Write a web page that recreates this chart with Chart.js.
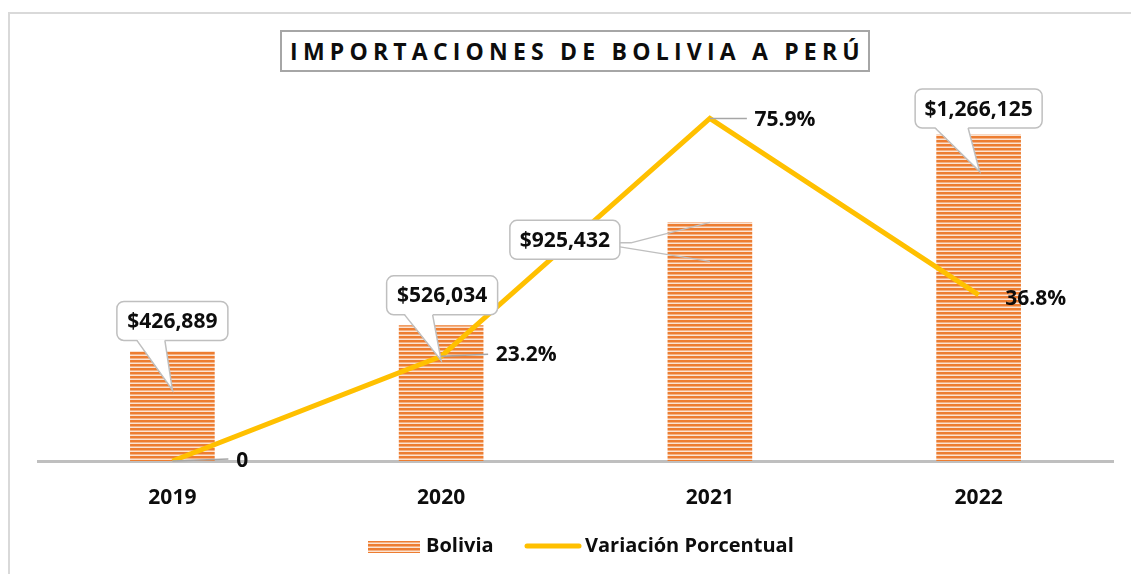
<!DOCTYPE html>
<html>
<head>
<meta charset="utf-8">
<script src="https://cdn.jsdelivr.net/npm/chart.js@4/dist/chart.umd.min.js"></script>
<style>
  html, body { margin:0; padding:0; background:#fff; overflow:hidden; }
  #wrap { position:relative; width:1131px; height:574px; }
  #frame { position:absolute; left:8px; top:12px; width:1200px; height:700px; border:2px solid #d9d9d9; }
  #title {
    position:absolute; left:280px; top:30px; width:590px; height:42px;
    border:2px solid #a6a6a6; background:#fff; box-sizing:border-box;
    font:bold 23px "Open Sans"; letter-spacing:5.2px; color:#0d0d0d;
    text-align:center; line-height:38px; white-space:nowrap; padding-left:5px;
  }
  canvas { position:absolute; left:0; top:0; }
</style>
</head>
<body>
<div id="wrap">
  <div id="frame"></div>
  <canvas id="chart"></canvas>
  <div id="title">IMPORTACIONES DE BOLIVIA A PERÚ</div>
</div>
<script>
const years = ["2019", "2020", "2021", "2022"];
const bolivia = [426889, 526034, 925432, 1266125];
const variacion = [0, 23.2, 75.9, 36.8];
const variacionLabels = ["0", "23.2%", "75.9%", "36.8%"];

const FONT = '"Open Sans"';
const TEXT = "#0d0d0d";

// striped fill like the excel bars
function stripes() {
    const c = document.createElement("canvas");
    c.width = 8; c.height = 4;
    const g = c.getContext("2d");
    g.fillStyle = "#ed7d31"; g.fillRect(0, 0, 8, 2);
    g.fillStyle = "#f4b183"; g.fillRect(0, 2, 8, 1);
    g.fillStyle = "#fbe3d2"; g.fillRect(0, 3, 8, 1);
    return g.createPattern(c, "repeat");
}

// callout boxes for the bar values (offsets from bar top)
const callouts = [
    { dx: 0,    dy: -30,  w: 111, base: [20, 48], tip: [0, 39] },
    { dx: 1,    dy: -30,  w: 111, base: [18, 46], tip: [0, 35] },
    { dx: -145, dy: 17.5, w: 110, side: true },
    { dx: 0,    dy: -26,  w: 127, base: [20, 53], tip: [1, 37] }
];
// labels of the line points: text offset and leader line end
const lineLabels = [
    { dx: 70, dy: 0,  lead: [56, -2] },
    { dx: 85, dy: -1, lead: [47, -2] },
    { dx: 75, dy: 2,  lead: [37, 0] },
    { dx: 57, dy: 4,  lead: null }
];

function roundRect(ctx, x, y, w, h, r) {
    ctx.beginPath();
    ctx.moveTo(x + r, y);
    ctx.arcTo(x + w, y, x + w, y + h, r);
    ctx.arcTo(x + w, y + h, x, y + h, r);
    ctx.arcTo(x, y + h, x, y, r);
    ctx.arcTo(x, y, x + w, y, r);
    ctx.closePath();
}

const labelPlugin = {
    id: "labels",
    afterDatasetsDraw(chart) {
        const ctx = chart.ctx;
        ctx.save();

        // line labels
        const lineMeta = chart.getDatasetMeta(1);
        lineMeta.data.forEach((pt, i) => {
            const o = lineLabels[i];
            if (o.lead) {
                ctx.strokeStyle = "#a6a6a6";
                ctx.lineWidth = 1.5;
                ctx.beginPath();
                ctx.moveTo(pt.x, pt.y);
                ctx.lineTo(pt.x + o.lead[0], pt.y + o.lead[1]);
                ctx.stroke();
            }
            ctx.fillStyle = TEXT;
            ctx.font = "bold 21px " + FONT;
            ctx.textAlign = "center";
            ctx.textBaseline = "middle";
            ctx.fillText(variacionLabels[i], pt.x + o.dx, pt.y + o.dy);
        });

        // bar callouts
        const barMeta = chart.getDatasetMeta(0);
        barMeta.data.forEach((bar, i) => {
            const c = callouts[i];
            const h = 39;
            const cx = bar.x + c.dx, cy = bar.y + c.dy;
            const x = cx - c.w / 2, y = cy - h / 2;
            ctx.lineWidth = 1.5;
            ctx.strokeStyle = "#bfbfbf";
            ctx.fillStyle = "#fff";
            roundRect(ctx, x, y, c.w, h, 7);
            ctx.fill();
            ctx.stroke();
            if (c.side) {
                ctx.beginPath();
                ctx.moveTo(x + c.w + 11, cy + 3);
                ctx.lineTo(bar.x, bar.y);
                ctx.moveTo(x + c.w, cy + 7);
                ctx.lineTo(bar.x, bar.y + 39);
                ctx.moveTo(x + c.w, cy + 3);
                ctx.lineTo(x + c.w + 11, cy + 3);
                ctx.stroke();
            } else {
                const tx = bar.x + c.tip[0], ty = bar.y + c.tip[1];
                ctx.beginPath();
                ctx.moveTo(x + c.base[0], y + h - 1);
                ctx.lineTo(tx, ty);
                ctx.lineTo(x + c.base[1], y + h - 1);
                ctx.closePath();
                ctx.fill();
                ctx.beginPath();
                ctx.moveTo(x + c.base[0], y + h);
                ctx.lineTo(tx, ty);
                ctx.lineTo(x + c.base[1], y + h);
                ctx.stroke();
            }
            ctx.fillStyle = TEXT;
            ctx.font = "bold 21px " + FONT;
            ctx.textAlign = "center";
            ctx.textBaseline = "middle";
            ctx.fillText("$" + bolivia[i].toLocaleString("en-US"), cx, cy + 1);
        });

        ctx.restore();
    },
    afterDraw(chart) {
        // legend
        const ctx = chart.ctx;
        ctx.save();
        ctx.fillStyle = stripes();
        ctx.fillRect(368, 541, 52, 12);
        ctx.strokeStyle = "#ffc000";
        ctx.lineWidth = 5;
        ctx.lineCap = "round";
        ctx.beginPath();
        ctx.moveTo(527, 546);
        ctx.lineTo(579, 546);
        ctx.stroke();
        ctx.fillStyle = TEXT;
        ctx.font = "bold 20px " + FONT;
        ctx.textAlign = "left";
        ctx.textBaseline = "middle";
        ctx.fillText("Bolivia", 426, 546);
        ctx.fillText("Variación Porcentual", 585, 546);
        ctx.restore();
    }
};

const canvas = document.getElementById("chart");
canvas.width = 1131;
canvas.height = 574;

new Chart(canvas, {
    type: "bar",
    data: {
        labels: years,
        datasets: [{
            label: "Bolivia",
            data: bolivia,
            backgroundColor: stripes(),
            borderWidth: 0,
            barPercentage: 0.63,
            categoryPercentage: 0.5,
            yAxisID: "y",
            order: 2
        }, {
            type: "line",
            label: "Variación Porcentual",
            data: variacion,
            borderColor: "#ffc000",
            borderWidth: 5,
            pointRadius: 0,
            tension: 0,
            yAxisID: "y1",
            order: 1
        }]
    },
    options: {
        responsive: false,
        animation: false,
        layout: {
            padding: { left: 38, right: 18, top: 100, bottom: 0 }
        },
        plugins: {
            legend: { display: false },
            tooltip: { enabled: false }
        },
        scales: {
            x: {
                grid: { display: false },
                border: { display: true, color: "#bfbfbf", width: 3 },
                ticks: {
                    color: TEXT,
                    font: { family: FONT, size: 21, weight: "bold" },
                    padding: 16
                },
                afterFit(scale) {
                    scale.height = 113;
                }
            },
            y: {
                display: false,
                min: 0,
                max: 1400000
            },
            y1: {
                display: false,
                position: "right",
                min: 0,
                max: 80
            }
        }
    },
    plugins: [labelPlugin]
});
</script>
</body>
</html>
